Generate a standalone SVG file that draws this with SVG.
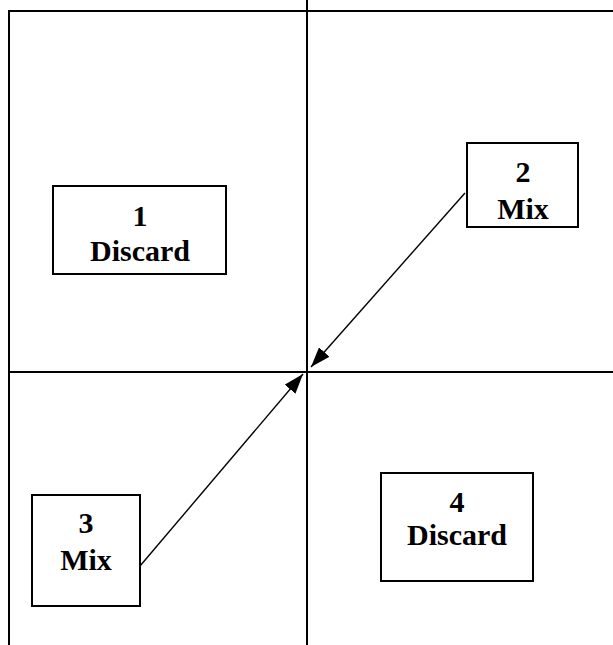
<svg xmlns="http://www.w3.org/2000/svg" width="613" height="645" viewBox="0 0 613 645">
<style>
.frame{stroke:#000;stroke-width:2;fill:none}
.box{stroke:#000;stroke-width:2;fill:#fff}
.lbl{font-family:"Liberation Serif","Times New Roman",serif;font-weight:bold;font-size:30px;text-anchor:middle;fill:#000}
.arrow{stroke:#000;stroke-width:1.4;fill:none;marker-end:url(#ah)}
</style>
<defs>
<marker id="ah" markerUnits="userSpaceOnUse" markerWidth="22" markerHeight="14" refX="20" refY="7" orient="auto">
<path d="M0,0 L20,7 L0,14 Z" fill="#000"/>
</marker>
</defs>
<g id="frame">
<line class="frame" x1="9" y1="11" x2="613" y2="11"/>
<line class="frame" x1="9" y1="10" x2="9" y2="645"/>
<line class="frame" x1="307" y1="0" x2="307" y2="645"/>
<line class="frame" x1="9" y1="372" x2="613" y2="372"/>
</g>
<g id="node1">
<rect class="box" x="53" y="186" width="173" height="88"/>
<text class="lbl" x="140" y="226">1</text>
<text class="lbl" x="140" y="261">Discard</text>
</g>
<g id="node2">
<rect class="box" x="467" y="143" width="111" height="84"/>
<text class="lbl" x="523" y="182">2</text>
<text class="lbl" x="523" y="219">Mix</text>
</g>
<g id="node3">
<rect class="box" x="32" y="495" width="108" height="111"/>
<text class="lbl" x="86" y="533">3</text>
<text class="lbl" x="86" y="570">Mix</text>
</g>
<g id="node4">
<rect class="box" x="381" y="473" width="152" height="108"/>
<text class="lbl" x="457" y="512">4</text>
<text class="lbl" x="457" y="545">Discard</text>
</g>
<g id="connectors">
<line class="arrow" x1="465" y1="193" x2="311" y2="367"/>
<line class="arrow" x1="140" y1="566" x2="303" y2="374"/>
</g>
</svg>
